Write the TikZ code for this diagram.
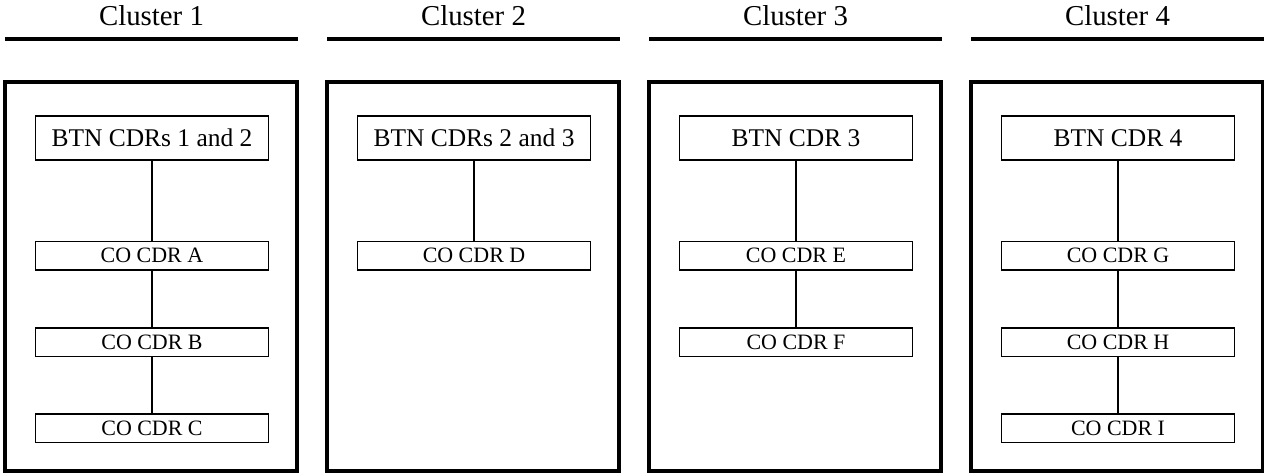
\documentclass[tikz,border=0pt]{standalone}
\usepackage{fontspec}
\setmainfont{Liberation Serif}

\tikzset{
  clustertitle/.style={inner sep=0pt, anchor=base, font=\fontsize{16.4}{19}\selectfont},
  rulebar/.style={line width=0.08cm},
  outerbox/.style={line width=0.08cm},
  btnbox/.style={draw, line width=0.03cm, inner sep=0pt, minimum width=4.66cm, minimum height=0.88cm, font=\fontsize{14.5}{17}\selectfont},
  cobox/.style={draw, line width=0.03cm, inner sep=0pt, minimum width=4.66cm, minimum height=0.57cm, font=\fontsize{12.5}{15}\selectfont},
  link/.style={line width=0.03cm}
}

\begin{document}
\begin{tikzpicture}[x=0.02cm, y=-0.02cm]
  \useasboundingbox (0,0) rectangle (1264,474);

  % titles, rules and frames
  \foreach \k/\name in {0/1,1/2,2/3,3/4} {
    \node[clustertitle] (title\name) at (151.5+322*\k, 25) {Cluster \name};
    \draw[rulebar] (5+322*\k, 39) -- (298+322*\k, 39);
    \draw[outerbox] (5+322*\k, 82) rectangle (297+322*\k, 470.5);
  }

  % cluster 1
  \node[btnbox] (btn1) at (152,138) {BTN CDRs 1 and 2};
  \node[cobox] (coA) at (152,255.5) {CO CDR A};
  \node[cobox] (coB) at (152,342) {CO CDR B};
  \node[cobox] (coC) at (152,428) {CO CDR C};
  \draw[link] (btn1) -- (coA);
  \draw[link] (coA) -- (coB);
  \draw[link] (coB) -- (coC);

  % cluster 2
  \node[btnbox] (btn2) at (474,138) {BTN CDRs 2 and 3};
  \node[cobox] (coD) at (474,255.5) {CO CDR D};
  \draw[link] (btn2) -- (coD);

  % cluster 3
  \node[btnbox] (btn3) at (796,138) {BTN CDR 3};
  \node[cobox] (coE) at (796,255.5) {CO CDR E};
  \node[cobox] (coF) at (796,342) {CO CDR F};
  \draw[link] (btn3) -- (coE);
  \draw[link] (coE) -- (coF);

  % cluster 4
  \node[btnbox] (btn4) at (1118,138) {BTN CDR 4};
  \node[cobox] (coG) at (1118,255.5) {CO CDR G};
  \node[cobox] (coH) at (1118,342) {CO CDR H};
  \node[cobox] (coI) at (1118,428) {CO CDR I};
  \draw[link] (btn4) -- (coG);
  \draw[link] (coG) -- (coH);
  \draw[link] (coH) -- (coI);
\end{tikzpicture}
\end{document}
